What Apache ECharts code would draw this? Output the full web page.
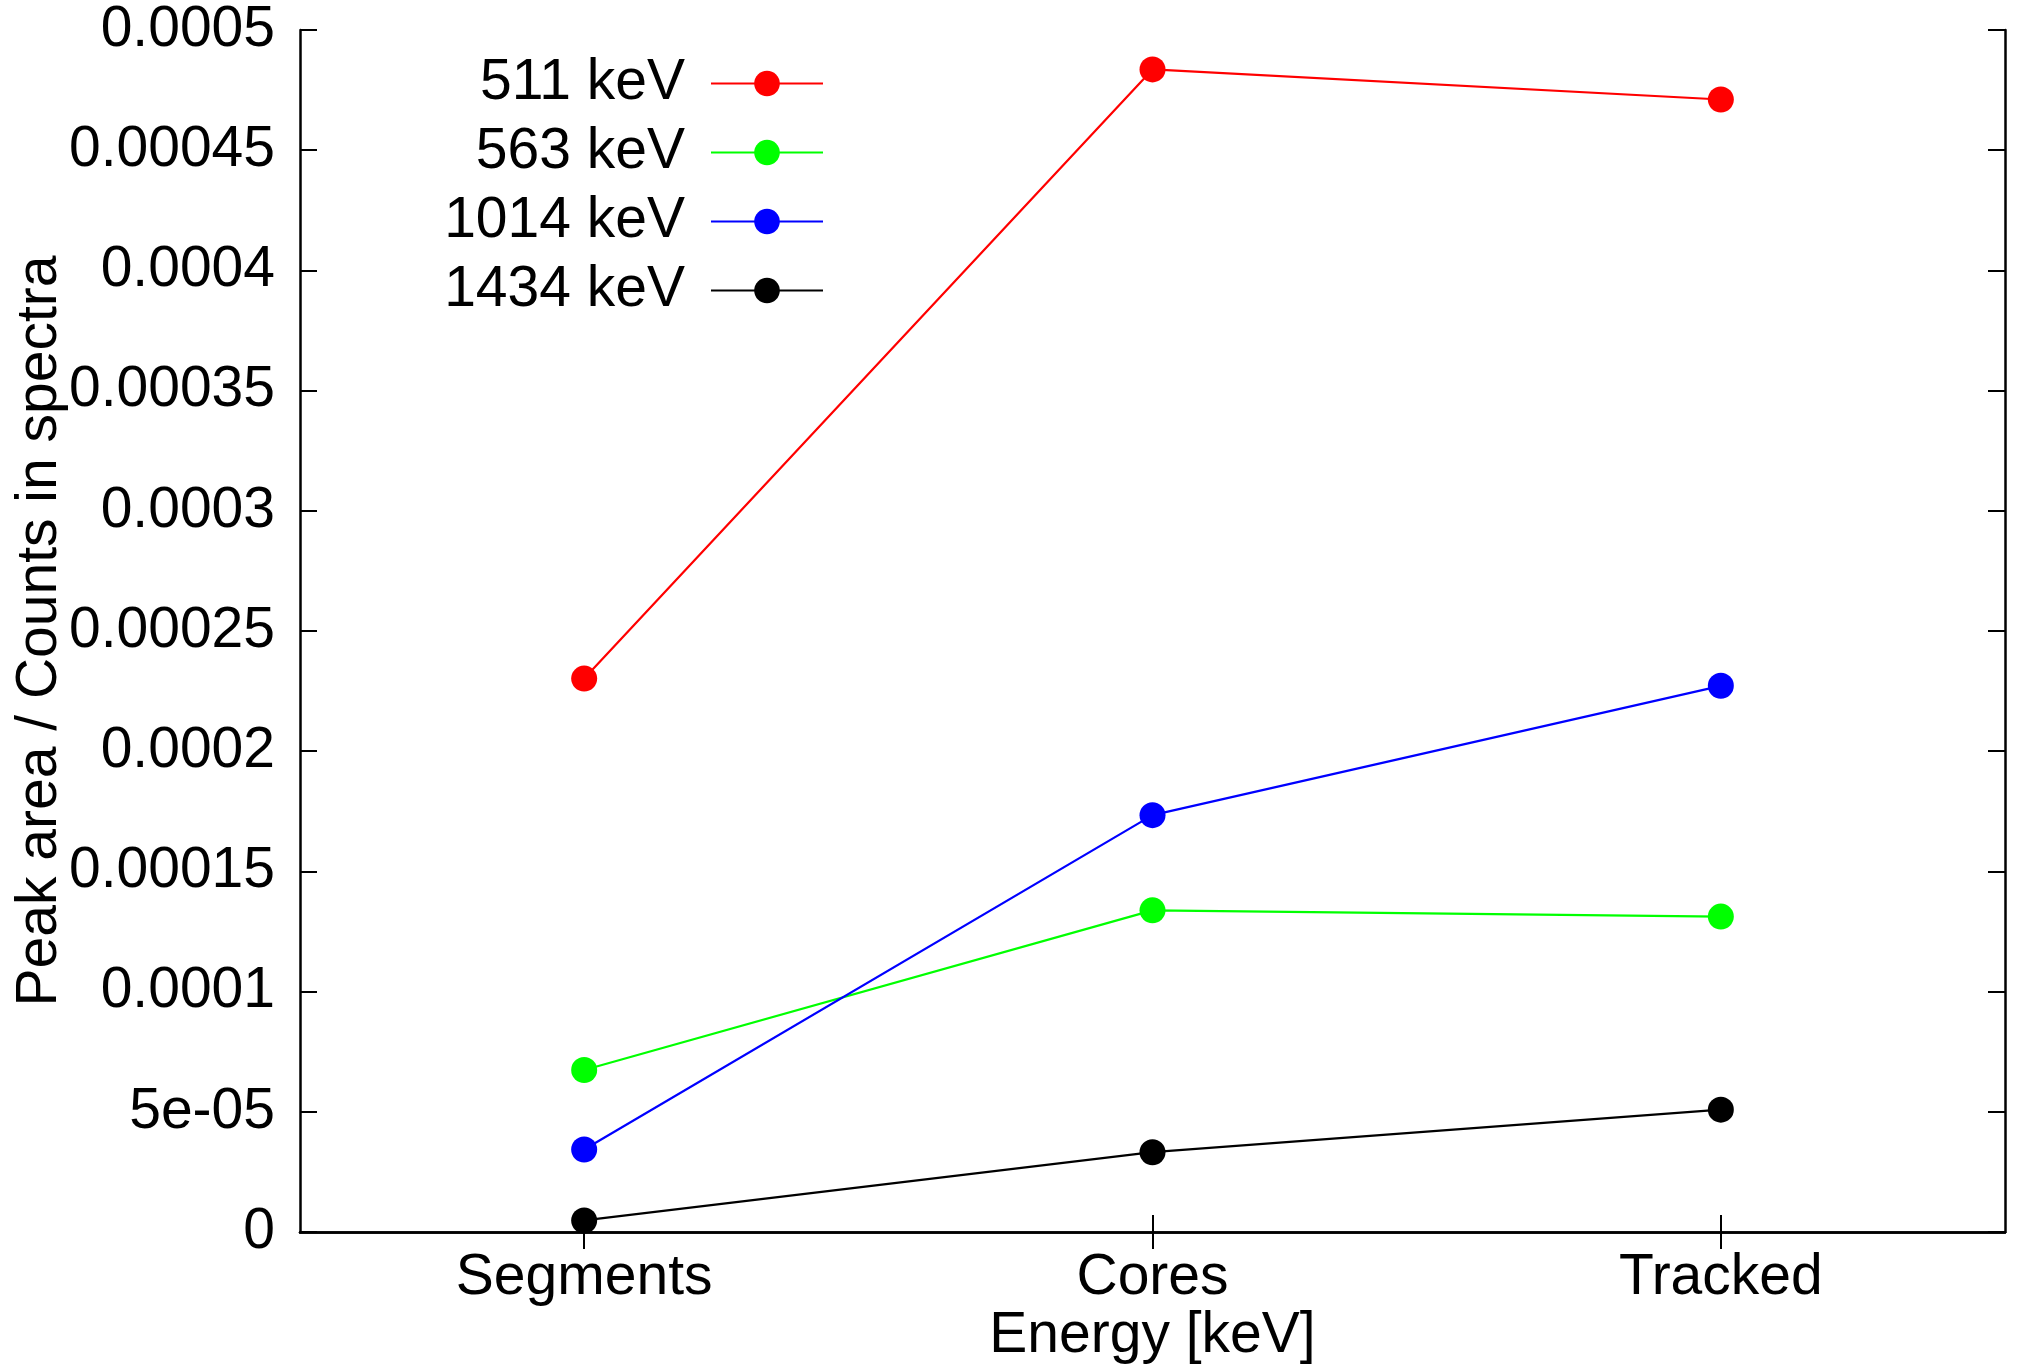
<!DOCTYPE html>
<html>
<head>
<meta charset="utf-8">
<script src="https://cdn.jsdelivr.net/npm/echarts@6/dist/echarts.min.js"></script>
<style>
html,body{margin:0;padding:0;background:#fff;}
#chart{width:2018px;height:1364px;}
</style>
</head>
<body>
<div id="chart"></div>
<script>
const categories = ['Segments', 'Cores', 'Tracked'];
const seriesNames = ['511 keV', '563 keV', '1014 keV', '1434 keV'];
const seriesColors = ['#ff0000', '#00ff00', '#0000ff', '#000000'];
const s511 = [0.0002302, 0.0004836, 0.0004711];
const s563 = [0.0000674, 0.0001338, 0.0001312];
const s1014 = [0.0000343, 0.0001734, 0.0002272];
const s1434 = [0.0000048, 0.0000332, 0.0000509];
const yTickLabels = ['0', '5e-05', '0.0001', '0.00015', '0.0002', '0.00025', '0.0003', '0.00035', '0.0004', '0.00045', '0.0005'];
const xTitle = 'Energy [keV]';
const yTitle = 'Peak area / Counts in spectra';

const FONT = 'Liberation Sans';
const FS = 57;
const seriesData = [s511, s563, s1014, s1434];

const chart = echarts.init(document.getElementById('chart'), null, {renderer: 'canvas'});
const axisLine = {show: true, lineStyle: {color: '#000', width: 2.5}};
const tick = {show: true, inside: true, length: 17, lineStyle: {color: '#000', width: 2}};

chart.setOption({
  backgroundColor: '#fff',
  animation: false,
  grid: {left: 300, right: 13, top: 30, bottom: 132, containLabel: false, outerBoundsMode: 'none'},
  legend: {
    orient: 'vertical',
    align: 'right',
    right: 2018 - 824,
    top: 55,
    padding: 0,
    itemWidth: 112,
    itemHeight: 32,
    itemGap: 12,
    data: seriesNames,
    textStyle: {fontFamily: FONT, fontSize: FS, color: '#000', lineHeight: 57, padding: [0, 21, 0, 0]}
  },
  xAxis: [{
    type: 'category',
    data: categories,
    boundaryGap: true,
    axisLine: axisLine,
    axisTick: Object.assign({alignWithLabel: true}, tick),
    axisLabel: {fontFamily: FONT, fontSize: FS, color: '#000', margin: 18},
    splitLine: {show: false},
    name: xTitle,
    nameLocation: 'middle',
    nameGap: 76,
    nameMoveOverlap: false,
    nameTextStyle: {fontFamily: FONT, fontSize: FS, color: '#000'}
  }, {
    type: 'category',
    data: categories,
    position: 'top',
    boundaryGap: true,
    axisLine: axisLine,
    axisTick: Object.assign({alignWithLabel: true}, tick),
    axisLabel: {show: false},
    splitLine: {show: false}
  }],
  yAxis: [{
    type: 'value',
    min: 0,
    max: 0.0005,
    interval: 0.00005,
    axisLine: axisLine,
    axisTick: tick,
    axisLabel: {
      fontFamily: FONT, fontSize: FS, color: '#000', margin: 25,
      formatter: function (v, i) { return yTickLabels[Math.round(v / 0.00005)]; }
    },
    splitLine: {show: false},
    name: yTitle,
    nameLocation: 'middle',
    nameGap: 231,
    nameMoveOverlap: false,
    nameTextStyle: {fontFamily: FONT, fontSize: FS, color: '#000'}
  }, {
    type: 'value',
    min: 0,
    max: 0.0005,
    interval: 0.00005,
    position: 'right',
    axisLine: axisLine,
    axisTick: tick,
    axisLabel: {show: false},
    splitLine: {show: false}
  }],
  series: seriesNames.map(function (name, i) {
    return {
      name: name,
      type: 'line',
      data: seriesData[i],
      symbol: 'circle',
      symbolSize: 26,
      showSymbol: true,
      lineStyle: {color: seriesColors[i], width: 2.2},
      itemStyle: {color: seriesColors[i]},
      emphasis: {disabled: true}
    };
  })
});
</script>
</body>
</html>
